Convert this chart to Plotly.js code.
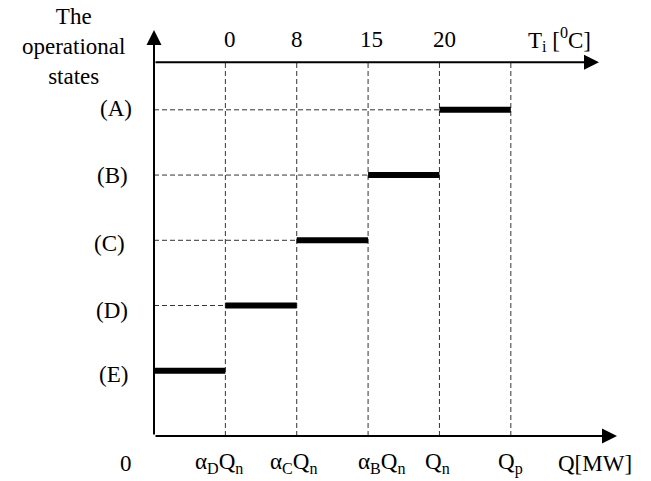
<!DOCTYPE html>
<html>
<head>
<meta charset="utf-8">
<script src="https://cdn.plot.ly/plotly-3.0.1.min.js"></script>
<style>html,body{margin:0;padding:0;background:#fff;}#chart{width:651px;height:481px;}</style>
</head>
<body>
<div id="chart"></div>
<script>
// ---- data ----
const states = ['(A)', '(B)', '(C)', '(D)', '(E)'];
const stateLevel = [5, 4, 3, 2, 1];
const qStart = [4, 3, 2, 1, 0];
const qEnd = [5, 4, 3, 2, 1];
const qTickPos = [1, 2, 3, 4, 5];
const qTickText = ['α<sub>D</sub>Q<sub>n</sub>', 'α<sub>C</sub>Q<sub>n</sub>', 'α<sub>B</sub>Q<sub>n</sub>', 'Q<sub>n</sub>', 'Q<sub>p</sub>'];
const tempTickPos = [1, 2, 3, 4];
const tempTickText = ['0', '8', '15', '20'];
const topAxisLevel = 5.73;

// ---- geometry helpers ----
const L = 154, R = 26, T = 25, B = 45, W = 651, H = 481;
const XR = [0, 6.6], YR = [0, 6.3];
const plotW = W - L - R, plotH = H - T - B;
const pxPerX = plotW / (XR[1] - XR[0]);
const pxPerY = plotH / (YR[1] - YR[0]);
const px2x = p => (p - L) / pxPerX + XR[0];
const py2y = p => (H - B - p) / pxPerY + YR[0];
const x2paper = x => (x - XR[0]) / (XR[1] - XR[0]);
const y2paper = y => (y - YR[0]) / (YR[1] - YR[0]);
const px2paper = p => (p - L) / plotW;
const py2paper = p => (H - B - p) / plotH;

const FONT = {family: '"Liberation Serif", "Times New Roman", serif', size: 23, color: '#000'};

const traces = [];
// horizontal dashed guides
const hx = [], hy = [];
stateLevel.forEach((lv, i) => { if (qStart[i] > 0) { hx.push(0, qStart[i], null); hy.push(lv, lv, null); } });
traces.push({x: hx, y: hy, mode: 'lines', line: {color: '#333', width: 1, dash: '5px,3px'}, hoverinfo: 'skip', showlegend: false});
// vertical dashed guides
const vx = [], vy = [];
qTickPos.forEach(q => { vx.push(q, q, null); vy.push(0, topAxisLevel, null); });
traces.push({x: vx, y: vy, mode: 'lines', line: {color: '#333', width: 1, dash: '5px,3px'}, hoverinfo: 'skip', showlegend: false});
// state bars
const bx = [], by = [];
stateLevel.forEach((lv, i) => { bx.push(qStart[i], qEnd[i], null); by.push(lv, lv, null); });
traces.push({x: bx, y: by, mode: 'lines', line: {color: '#000', width: 6}, hoverinfo: 'skip', showlegend: false});

const ann = [];
function arrow(x0, y0, x1, y1) {
  ann.push({x: x1, y: y1, ax: x0, ay: y0, xref: 'x', yref: 'y', axref: 'x', ayref: 'y',
    showarrow: true, arrowhead: 2, arrowsize: 1.5, arrowwidth: 2, arrowcolor: '#000', standoff: 0, text: ''});
}
arrow(0, 0, px2x(617), 0);
arrow(0, 0, 0, py2y(30));
arrow(0, topAxisLevel, px2x(599), topAxisLevel);

function label(text, xp, yp, extra) {
  ann.push(Object.assign({x: xp, y: yp, xref: 'paper', yref: 'paper', text: text, showarrow: false,
    xanchor: 'center', yanchor: 'middle', font: FONT}, extra || {}));
}
// state labels
const stateDx = [116, 112, 109, 112, 113];
const stateDy = [1, 0, -3, -5, -4];
stateLevel.forEach((lv, i) => label(states[i], px2paper(stateDx[i]), y2paper(lv), {yshift: stateDy[i]}));
// bottom labels
const qShift = [-6, -3, 13, -2, 0];
qTickPos.forEach((q, i) => label(qTickText[i], x2paper(q), py2paper(463), {xshift: qShift[i]}));
label('0', px2paper(126), py2paper(463));
label('Q[MW]', px2paper(595), py2paper(463));
// top labels
const tShift = [5, 0, 3, 5];
tempTickPos.forEach((q, i) => label(tempTickText[i], x2paper(q), py2paper(40), {xshift: tShift[i]}));
label('T<sub>i</sub> [<sup>0</sup>C]', px2paper(559), py2paper(40));
// y title
label('The<br>operational<br>states', px2paper(73), py2paper(46));

const layout = {
  width: W, height: H,
  margin: {l: L, r: R, t: T, b: B, pad: 0},
  paper_bgcolor: '#fff', plot_bgcolor: '#fff',
  xaxis: {range: XR, visible: false, fixedrange: true},
  yaxis: {range: YR, visible: false, fixedrange: true},
  annotations: ann,
  showlegend: false
};
Plotly.newPlot('chart', traces, layout, {displayModeBar: false, staticPlot: true});
</script>
</body>
</html>
